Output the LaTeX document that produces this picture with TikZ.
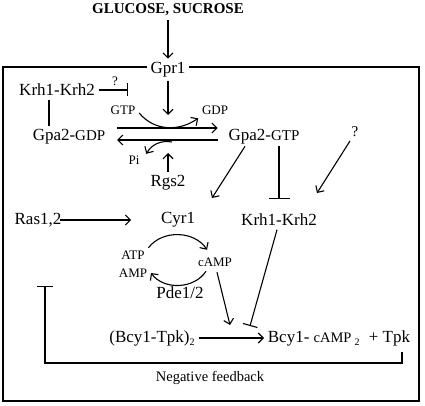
\documentclass[tikz,border=0pt]{standalone}
\usepackage{fontspec}
\setmainfont{Liberation Serif}
\usetikzlibrary{arrows.meta}
\newcommand{\lowsub}[1]{\raisebox{-0.45ex}{\fontsize{10}{10}\selectfont #1}}
\newcommand{\gsz}[1]{{\fontsize{15}{18}\selectfont #1}}
\begin{document}
\begin{tikzpicture}[x=1pt,y=1pt,line width=1.1pt,>={Straight Barb[length=5pt,width=10pt]},
    big/.style={font=\fontsize{17}{20}\selectfont},
    sml/.style={font=\fontsize{13}{15}\selectfont},
    inh/.style={-{Bar[width=13pt]}}]
\useasboundingbox (0,0) rectangle (425,-406);
\draw (3,-67) rectangle (419,-401);

\node[font=\fontsize{15}{18}\selectfont\bfseries] (glu) at (168,-10) {GLUCOSE, SUCROSE};
\node[big,fill=white] (gpr) at (168,-70) {Gpr1};
\node[big] (krhA) at (57,-90) {Krh1-Krh2}; \node[sml] (qA) at (115,-81) {?};
\node[sml] (gtpS) at (123,-110) {GTP}; \node[sml] (gdpS) at (215,-110) {GDP};
\node[big] (gpaD) at (69,-137) {Gpa2-\gsz{GDP}}; \node[big] (gpaT) at (264,-137) {Gpa2-\gsz{GTP}};
\node[font=\fontsize{15}{18}\selectfont] (qB) at (355,-132) {?};
\node[sml] (pi) at (134,-160) {Pi}; \node[big] (rgs) at (168,-183) {Rgs2};
\node[big] (ras) at (38,-220) {Ras1,2}; \node[big] (cyr) at (178,-220) {Cyr1}; \node[big] (krhB) at (279,-220) {Krh1-Krh2};
\node[sml] (atp) at (133,-255) {ATP}; \node[sml] (amp) at (133,-273) {AMP}; \node[sml] (camp) at (215,-262) {cAMP};
\node[big] (pde) at (180,-293) {Pde1/2};
\node[big] (bcyT) at (152,-338) {(Bcy1-Tpk)\lowsub{2}};
\node[big,anchor=west] (bcyR) at (264,-338) {Bcy1- {\fontsize{14.5}{16}\selectfont cAMP\hspace{3pt}\lowsub{2}}\hspace{5pt} + Tpk};
\node[font=\fontsize{14.5}{17}\selectfont] (neg) at (210,-378) {Negative feedback};

\coordinate (qbar) at (128,-90); \coordinate (kv) at (49,0); \coordinate (gmid) at (168,-115);
\coordinate (piS) at (172,-142); \coordinate (rgsT) at (168,-153);
\coordinate (cyrIn) at (212,-198); \coordinate (krhIn) at (317,-193);
\coordinate (bcyIn1) at (230,-325); \coordinate (bcyIn2) at (250,-326);
\coordinate (fbS) at (402,-352); \coordinate (fbE) at (45,-286);

\draw[->] (glu) to (gpr); \draw[->] (gpr) to (gmid);
\draw[inh] (krhA) to (qbar); \draw (krhA.south -| kv) to (gpaD.north -| kv);
\draw[->] ([xshift=8pt,yshift=9pt]gpaD.east) to ([xshift=-7pt,yshift=9pt]gpaT.west);
\draw[->] ([xshift=-7pt,yshift=-3pt]gpaT.west) to ([xshift=8pt,yshift=-3pt]gpaD.east);
\draw[->] ([yshift=-3pt]gtpS.east) .. controls (155,-132) and (180,-131) .. (gdpS.south west);
\draw[->] (piS) to[bend right=35] ([shift={(3pt,-2pt)}]pi.north east);
\draw[->] (rgs) to (rgsT);
\draw[->] ([xshift=-19pt,yshift=2pt]gpaT.south) to (cyrIn);
\draw[inh,-{Bar[width=21pt]}] ([yshift=2pt]gpaT.south -| krhB.north) to ([yshift=11pt]krhB.north);
\draw[->] ([xshift=-5pt]qB.south) to (krhIn);
\draw[->] ([xshift=-5pt]ras.east) to ([xshift=-26pt]cyr.west);
\draw[->] ([yshift=-1pt]atp.north east) to[bend left=55] ([xshift=-8pt,yshift=4pt]camp.north);
\draw[->] ([xshift=-9pt,yshift=-1pt]camp.south) to[bend left=55] (amp.east);
\draw[->] ([xshift=2pt,yshift=-2pt]camp.south) to (bcyIn1);
\draw[inh,-{Bar[width=15pt]}] ([xshift=-2pt]krhB.south) to (bcyIn2);
\draw[->] (bcyT.east |- bcyR.west) to (bcyR.west);
\draw[inh,-{Bar[width=16pt]}] (fbS) -- ++(0,-11) -| (fbE);
\end{tikzpicture}
\end{document}
